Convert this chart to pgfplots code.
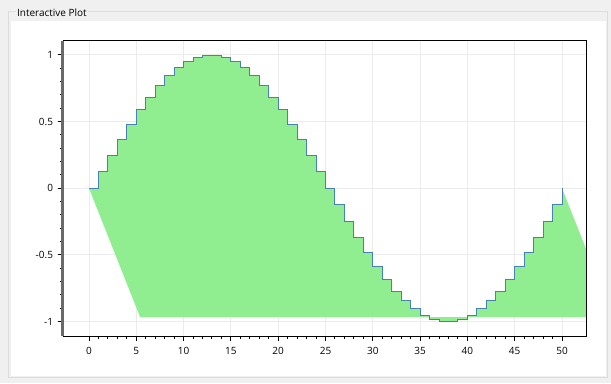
\documentclass[border=0pt]{standalone}
\usepackage{pgfplots}
\pgfplotsset{compat=1.18}
\usepackage{fontspec}
\setmainfont{Open Sans}
\definecolor{bggray}{RGB}{240,240,240}
\definecolor{framegray}{RGB}{220,220,220}
\definecolor{lgreen}{RGB}{144,238,144}
\definecolor{steel}{RGB}{70,130,180}
\definecolor{gridgray}{RGB}{235,235,235}
\definecolor{spinegray}{RGB}{105,105,105}
\begin{document}
\begin{tikzpicture}
\begin{scope}[x=0.75pt,y=-0.75pt]
\fill[bggray] (0,0) rectangle (611,383);
\draw[framegray,line width=0.9pt] (8.5,11.5) rectangle (607.5,377.5);
\fill[white] (11,21) rectangle (606,376);
\node[anchor=west,fill=bggray,inner sep=1pt,font=\fontsize{7.5}{9}\selectfont] at (15.5,12.5) {Interactive Plot};
\end{scope}
\begin{axis}[
  at={(47.03pt,-252pt)}, anchor=south west,
  scale only axis, width=393.2pt, height=221.6pt,
  xmin=-2.78, xmax=52.64, ymin=-1.108, ymax=1.108,
  axis x line=bottom, axis y line=left,
  x axis line style={black,line width=0.75pt,-},
  y axis line style={spinegray,line width=2.2pt,-},
  xtick={0,5,...,50}, xticklabels={0,5,10,15,20,25,30,35,40,45,50},
  ytick={-1,-0.5,0,0.5,1}, yticklabels={-1,-0.5,0,0.5,1},
  minor x tick num=4, minor y tick num=4,
  tick align=outside,
  major tick length=3.75pt, minor tick length=2.2pt,
  x tick style={black,line width=0.75pt},
  y tick style={black,line width=0.75pt},
  tick label style={font=\fontsize{7.5}{9}\selectfont},
  xticklabel style={yshift=-1pt},
  yticklabel style={xshift=0pt},
  grid=major, major grid style={gridgray,line width=0.75pt},
  clip=true,
]
\addplot[fill=lgreen,draw=none] coordinates {
(0,0)(1,0)
(1,0.1253)(2,0.1253)
(2,0.2487)(3,0.2487)
(3,0.3681)(4,0.3681)
(4,0.4818)(5,0.4818)
(5,0.5878)(6,0.5878)
(6,0.6845)(7,0.6845)
(7,0.7705)(8,0.7705)
(8,0.8443)(9,0.8443)
(9,0.9048)(10,0.9048)
(10,0.9511)(11,0.9511)
(11,0.9823)(12,0.9823)
(12,0.9980)(13,0.9980)
(13,0.9980)(14,0.9980)
(14,0.9823)(15,0.9823)
(15,0.9511)(16,0.9511)
(16,0.9048)(17,0.9048)
(17,0.8443)(18,0.8443)
(18,0.7705)(19,0.7705)
(19,0.6845)(20,0.6845)
(20,0.5878)(21,0.5878)
(21,0.4818)(22,0.4818)
(22,0.3681)(23,0.3681)
(23,0.2487)(24,0.2487)
(24,0.1253)(25,0.1253)
(25,0)(26,0)
(26,-0.1253)(27,-0.1253)
(27,-0.2487)(28,-0.2487)
(28,-0.3681)(29,-0.3681)
(29,-0.4818)(30,-0.4818)
(30,-0.5878)(31,-0.5878)
(31,-0.6845)(32,-0.6845)
(32,-0.7705)(33,-0.7705)
(33,-0.8443)(34,-0.8443)
(34,-0.9048)(35,-0.9048)
(35,-0.9511)(36,-0.9511)
(36,-0.9823)(37,-0.9823)
(37,-0.9980)(38,-0.9980)
(38,-0.9980)(39,-0.9980)
(39,-0.9823)(40,-0.9823)
(40,-0.9511)(41,-0.9511)
(41,-0.9048)(42,-0.9048)
(42,-0.8443)(43,-0.8443)
(43,-0.7705)(44,-0.7705)
(44,-0.6845)(45,-0.6845)
(45,-0.5878)(46,-0.5878)
(46,-0.4818)(47,-0.4818)
(47,-0.3681)(48,-0.3681)
(48,-0.2487)(49,-0.2487)
(49,-0.1253)(50,-0.1253)
(50,0)(55.4,-0.966)(5.4,-0.966)
} -- cycle;
\addplot[const plot, steel, line width=0.75pt] coordinates {
(0,0)(1,0.1253)(2,0.2487)(3,0.3681)(4,0.4818)(5,0.5878)(6,0.6845)(7,0.7705)(8,0.8443)(9,0.9048)
(10,0.9511)(11,0.9823)(12,0.9980)(13,0.9980)(14,0.9823)(15,0.9511)(16,0.9048)(17,0.8443)(18,0.7705)(19,0.6845)
(20,0.5878)(21,0.4818)(22,0.3681)(23,0.2487)(24,0.1253)(25,0)(26,-0.1253)(27,-0.2487)(28,-0.3681)(29,-0.4818)
(30,-0.5878)(31,-0.6845)(32,-0.7705)(33,-0.8443)(34,-0.9048)(35,-0.9511)(36,-0.9823)(37,-0.9980)(38,-0.9980)(39,-0.9823)
(40,-0.9511)(41,-0.9048)(42,-0.8443)(43,-0.7705)(44,-0.6845)(45,-0.5878)(46,-0.4818)(47,-0.3681)(48,-0.2487)(49,-0.1253)
(50,0)
};
\draw[black,line width=0.75pt] (rel axis cs:0,1) -- (rel axis cs:1,1) -- (rel axis cs:1,0);
\end{axis}
\end{tikzpicture}
\end{document}
